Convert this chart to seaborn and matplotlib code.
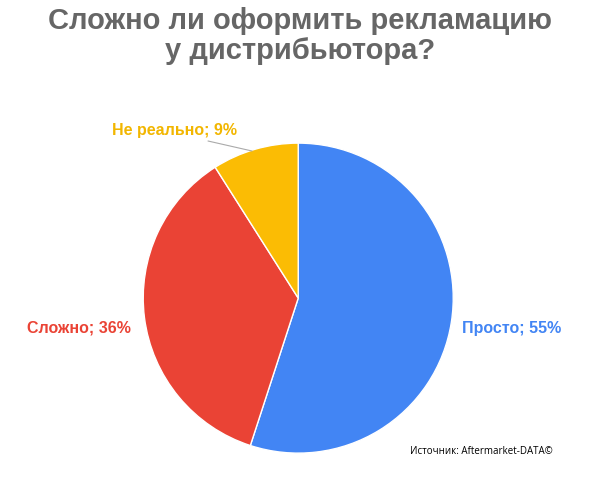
import matplotlib
matplotlib.use("Agg")
import matplotlib.pyplot as plt
import seaborn as sns

categories = ["Просто", "Сложно", "Не реально"]
values = [55, 36, 9]
colors = ["#4285F4", "#EA4335", "#FBBC04"]

sns.set_style("white")
plt.rcParams['font.family'] = ['Liberation Sans', 'DejaVu Sans']

fig = plt.figure(figsize=(6, 4.84), dpi=100)
ax = fig.add_axes([0.497 - 0.2583, 0.384 - 0.3202, 0.5167, 0.6405])
ax.pie(values, colors=colors, startangle=90, counterclock=False,
       wedgeprops=dict(edgecolor="white", linewidth=1))
ax.set_xlim(-1, 1)
ax.set_ylim(-1, 1)
ax.set_aspect("equal")
ax.axis("off")

fig.text(0.5, 0.985, "Сложно ли оформить рекламацию\nу дистрибьютора?", ha="center", va="top",
         fontsize=21, fontweight="bold", color="#666666", linespacing=1.1)

fig.text(462/600, 1-328/484, f"{categories[0]}; {values[0]}%", color=colors[0],
         fontsize=11.5, fontweight="bold", ha="left", va="center")
fig.text(131/600, 1-328/484, f"{categories[1]}; {values[1]}%", color=colors[1],
         fontsize=11.5, fontweight="bold", ha="right", va="center")
fig.text(175/600, 1-130/484, f"{categories[2]}; {values[2]}%", color="#F2B600",
         fontsize=11.5, fontweight="bold", ha="center", va="center")
fig.add_artist(plt.Line2D([208/600, 252/600], [1-141/484, 1-151/484], color="#aaaaaa", lw=0.8))

fig.text(410/600, 1-452/484, "Источник: Aftermarket-DATA©", fontsize=7, color="black",
         ha="left", va="center", family=['Open Sans', 'DejaVu Sans'])

fig.savefig("out.png", dpi=100)
